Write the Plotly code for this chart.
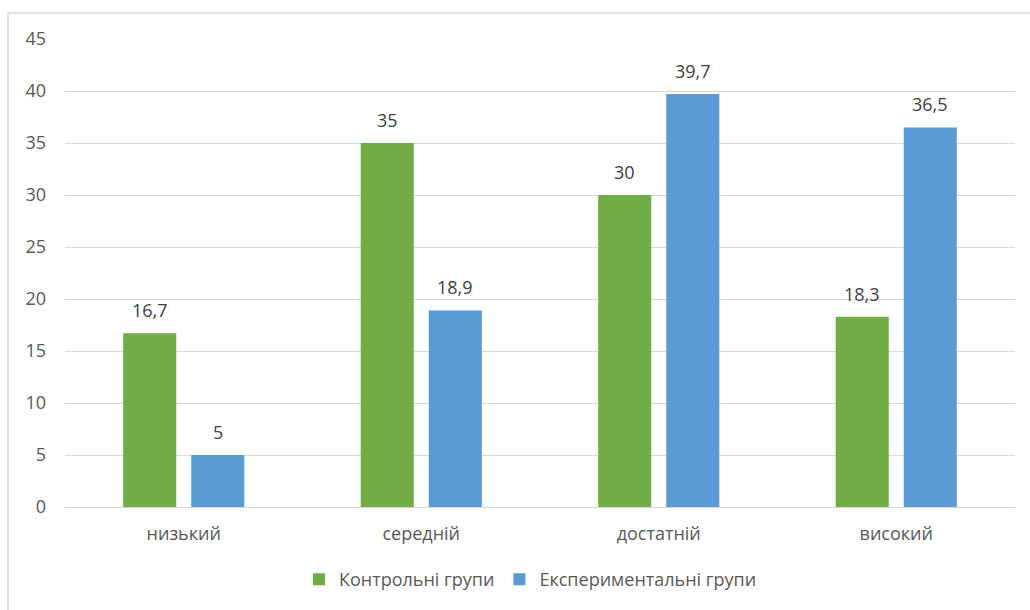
import plotly.graph_objects as go

categories = ["низький", "середній", "достатній", "високий"]
control = [16.7, 35, 30, 18.3]
experimental = [5, 18.9, 39.7, 36.5]
control_name = "Контрольні групи"
experimental_name = "Експериментальні групи"

W, H = 1030, 610
L, R, T, B = 65, 15, 39, 103
pw, ph = W - L - R, H - T - B

font_family = "'Open Sans', sans-serif"
text_color = "#595959"
label_color = "#404040"
fsize = 18

bargap, bargroupgap = 0.427, 0.22
# half of one bar slot inside a group, in pixels, for centring value labels
slot_half = pw / len(categories) * (1 - bargap) / 4


def fmt(v):
    return f"{v:g}".replace(".", ",")


fig = go.Figure()
fig.add_trace(go.Bar(
    x=categories, y=control, name=control_name,
    marker=dict(color="#70AD47", line=dict(width=0)),
))
fig.add_trace(go.Bar(
    x=categories, y=experimental, name=experimental_name,
    marker=dict(color="#5B9BD5", line=dict(width=0)),
))

# value labels above each bar
for series, shift in ((control, -slot_half), (experimental, slot_half)):
    for cat, v in zip(categories, series):
        fig.add_annotation(x=cat, y=v, text=fmt(v), showarrow=False,
                           xshift=shift, yshift=23, yanchor="middle",
                           font=dict(size=fsize, color=label_color, family=font_family))

# chart frame (top and left edges visible within the page)
fig.add_shape(type="rect", xref="paper", yref="paper",
              x0=(8 - L) / pw, x1=(W + 20 - L) / pw,
              y0=-(H + 20 - T - ph) / ph, y1=1 + (T - 13) / ph,
              line=dict(color="#D9D9D9", width=1.5), layer="below")

fig.update_layout(
    width=W, height=H,
    margin=dict(l=L, r=R, t=T, b=B),
    paper_bgcolor="white", plot_bgcolor="white",
    barmode="group", bargap=bargap, bargroupgap=bargroupgap,
    font=dict(family=font_family, size=fsize, color=text_color),
    showlegend=True,
    legend=dict(orientation="h", x=0.49, xanchor="center", y=-0.155, yanchor="middle",
                font=dict(size=fsize, color=text_color), itemwidth=30,
                traceorder="normal"),
)
fig.update_yaxes(range=[0, 45], dtick=5, showgrid=True, gridcolor="#D9D9D9", gridwidth=1.3,
                 zeroline=True, zerolinecolor="#D9D9D9", zerolinewidth=1.3,
                 showline=False, ticks="", ticklabelstandoff=18,
                 tickfont=dict(size=fsize, color=text_color))
fig.update_xaxes(showgrid=False, showline=False, ticks="", ticklabelstandoff=14,
                 tickfont=dict(size=fsize, color=text_color))

fig.write_html("out.html")
